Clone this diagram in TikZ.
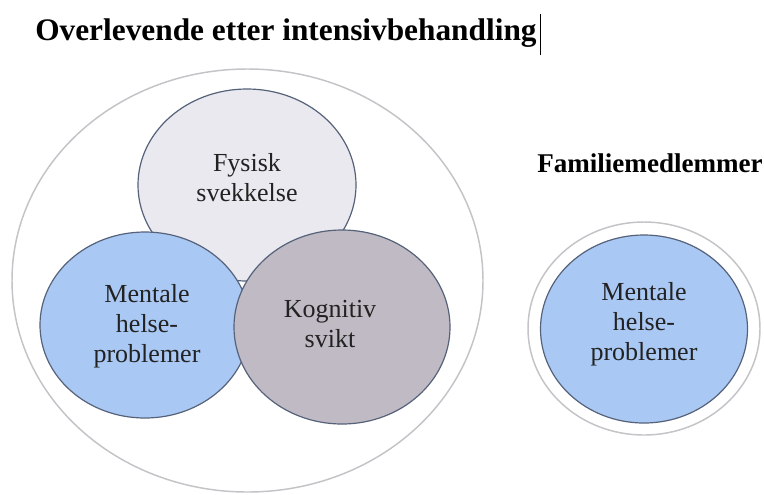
\documentclass[tikz,border=0pt]{standalone}
\usepackage{fontspec}
\setmainfont{Liberation Serif}
\newfontfamily\bodyserif{Liberation Serif}
\definecolor{outerline}{HTML}{C4C4C8}
\definecolor{fysfill}{HTML}{E9E9EF}
\definecolor{mentfill}{HTML}{A9C8F3}
\definecolor{kogfill}{HTML}{C0BAC4}
\definecolor{edge}{HTML}{56627A}
\definecolor{txt}{HTML}{222222}
\tikzset{
  bubble/.style={draw=edge, line width=0.9pt},
  ring/.style={draw=outerline, line width=1.1pt, fill=white},
  bodytxt/.style={align=center, text=txt, font=\bodyserif\fontsize{19.5}{22.5}\selectfont},
  headtxt/.style={text=black, font=\bodyserif\bfseries\fontsize{23.5}{27}\selectfont, inner sep=0pt},
  subtxt/.style={text=black, font=\bodyserif\bfseries\fontsize{20.3}{23}\selectfont, inner sep=0pt}
}
\begin{document}
\begin{tikzpicture}[x=0.75pt,y=-0.75pt]
\useasboundingbox[fill=white] (0,0) rectangle (764,494);
% title
\node[headtxt, anchor=base west] (title) at (35,40) {Overlevende etter intensivbehandling};
\draw[line width=0.8pt, black] ([xshift=2.5pt,yshift=-6pt]title.south east) coordinate (c1) -- ([xshift=2.5pt,yshift=3pt]title.north east) coordinate (c2);
% left group
\draw[ring] (247.5,280.5) ellipse [x radius=235.5, y radius=211.5];
\draw[bubble, fill=fysfill] (247,185) ellipse [x radius=109, y radius=96];
\draw[bubble, fill=mentfill] (145,325) ellipse [x radius=105, y radius=93];
\draw[bubble, fill=kogfill] (342,327) ellipse [x radius=108, y radius=97];
\node[bodytxt] (fys) at (247,178) {Fysisk\\svekkelse};
\node[bodytxt] (ment) at (147,326) {Mentale\\helse-\\problemer};
\node[bodytxt] (kog) at (330,324) {Kognitiv\\svikt};
% right group
\node[subtxt, anchor=base west] (fam) at (537,172) {Familiemedlemmer};
\draw[ring] (644,328.5) ellipse [x radius=116, y radius=106.5];
\draw[bubble, fill=mentfill] (644,329) ellipse [x radius=103.5, y radius=94];
\node[bodytxt] (ment2) at (644,324) {Mentale\\helse-\\problemer};
\end{tikzpicture}
\end{document}
